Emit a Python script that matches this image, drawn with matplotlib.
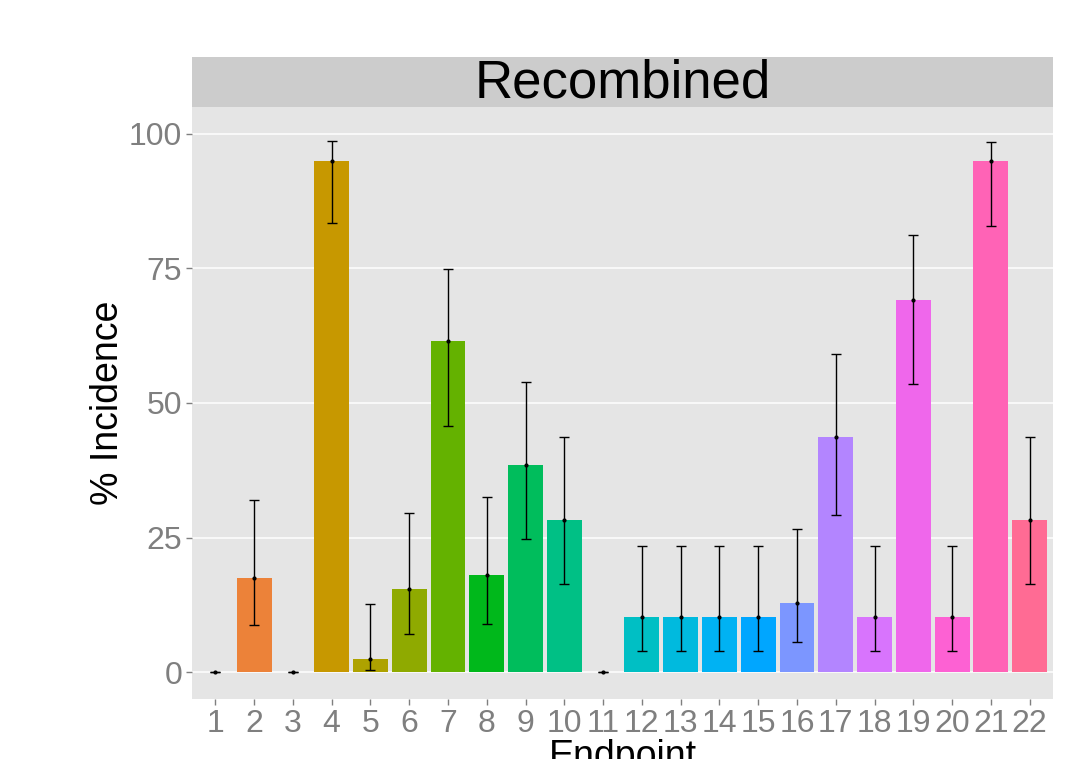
import numpy as np
import matplotlib.pyplot as plt

plt.rcParams['font.family'] = ['Liberation Sans', 'DejaVu Sans']

endpoints = [str(i) for i in range(1, 23)]
incidence = [0, 17.5, 0, 95.0, 2.5, 15.4, 61.5, 18.0, 38.5, 28.2, 0,
             10.3, 10.3, 10.3, 10.3, 12.8, 43.6, 10.3, 69.2, 10.3, 94.9, 28.2]
ci_low = [0, 8.7, 0, 83.5, 0.4, 7.1, 45.7, 8.9, 24.7, 16.3, 0,
          3.9, 3.9, 3.9, 3.9, 5.5, 29.1, 3.9, 53.5, 3.9, 82.9, 16.3]
ci_high = [0, 32.0, 0, 98.6, 12.7, 29.5, 74.9, 32.5, 53.9, 43.7, 0,
           23.5, 23.5, 23.5, 23.5, 26.5, 59.1, 23.5, 81.3, 23.5, 98.5, 43.7]


def hue_pal(n, l=65, c=100):
    # ggplot-style evenly spaced hues in polar Luv, converted to sRGB
    hues = np.linspace(15, 375, n + 1)[:-1]
    Xn, Yn, Zn = 95.047, 100.0, 108.883
    un = 4 * Xn / (Xn + 15 * Yn + 3 * Zn)
    vn = 9 * Yn / (Xn + 15 * Yn + 3 * Zn)
    cols = []
    for h in hues:
        U = c * np.cos(np.radians(h))
        V = c * np.sin(np.radians(h))
        Y = Yn * ((l + 16) / 116) ** 3
        u = U / (13 * l) + un
        v = V / (13 * l) + vn
        X = 9 * Y * u / (4 * v)
        Z = -X / 3 - 5 * Y + 3 * Y / v
        xyz = np.array([X, Y, Z]) / 100
        m = np.array([[3.2404542, -1.5371385, -0.4985314],
                      [-0.9692660, 1.8760108, 0.0415560],
                      [0.0556434, -0.2040259, 1.0572252]])
        rgb = m @ xyz
        rgb = np.where(rgb <= 0.0031308, 12.92 * rgb,
                       1.055 * np.sign(rgb) * np.abs(rgb) ** (1 / 2.4) - 0.055)
        cols.append(np.clip(rgb, 0, 1))
    return cols


colors = hue_pal(len(endpoints))
x = np.arange(1, len(endpoints) + 1)

fig = plt.figure(figsize=(10.77, 7.59), dpi=100)
ax = fig.add_axes([192 / 1077, 60 / 759, 861 / 1077, 592 / 759])
ax.set_facecolor('#E5E5E5')
for s in ax.spines.values():
    s.set_visible(False)

for yv in [0, 25, 50, 75, 100]:
    ax.axhline(yv, color='white', lw=1.1, zorder=0)

ax.bar(x, incidence, width=0.9, color=colors, zorder=2)
low = np.array(incidence) - np.array(ci_low)
high = np.array(ci_high) - np.array(incidence)
ax.errorbar(x, incidence, yerr=[low, high], fmt='o', ms=2, color='black',
            ecolor='black', elinewidth=1, capsize=3.5, capthick=1, zorder=3)

ax.set_xlim(0.4, 22.6)
ax.set_ylim(-5, 105)
ax.set_xticks(x)
ax.set_xticklabels(endpoints)
ax.set_yticks([0, 25, 50, 75, 100])
ax.tick_params(axis='both', colors='#7F7F7F', labelsize=23, length=4, width=1)
ax.tick_params(axis='x', pad=3)
ax.tick_params(axis='y', pad=3)
ax.set_ylabel('% Incidence', fontsize=27, color='black', labelpad=2)
ax.set_xlabel('Endpoint', fontsize=27, color='black', labelpad=0)

# facet strip above the panel
strip = fig.add_axes([192 / 1077, 652 / 759, 861 / 1077, 50 / 759])
strip.set_facecolor('#CCCCCC')
strip.set_xticks([])
strip.set_yticks([])
for s in strip.spines.values():
    s.set_visible(False)
strip.text(0.5, 0.47, 'Recombined', ha='center', va='center', fontsize=38,
           color='black', transform=strip.transAxes)

fig.savefig('out.png', dpi=100)
